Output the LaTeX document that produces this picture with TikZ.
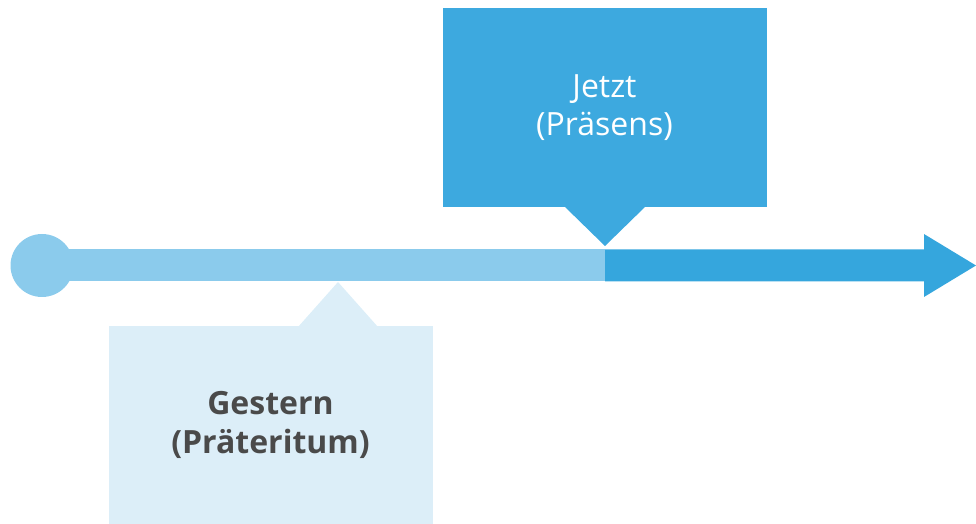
\documentclass[tikz,border=0pt]{standalone}
\usepackage{fontspec}
\setmainfont{Open Sans}
\definecolor{barlight}{HTML}{8BCBEC}
\definecolor{bardark}{HTML}{35A6DD}
\definecolor{boxdark}{HTML}{3DA9DF}
\definecolor{boxlight}{HTML}{DCEEF8}
\definecolor{txtgrey}{HTML}{4A4A4A}
\begin{document}
\begin{tikzpicture}[x=0.75pt,y=-0.75pt,
  box/.style={rectangle,inner sep=0pt,align=center,font=\fontsize{24}{29}\selectfont},
]
\useasboundingbox (0,0) rectangle (976,524);
% boxes
\node[box,fill=boxdark,text=white,minimum width=324*0.75pt,minimum height=199*0.75pt] (now) at (604.5,107.5) {Jetzt\\(Präsens)};
\node[box,fill=boxlight,text=txtgrey,font=\fontsize{24}{29}\selectfont\bfseries,minimum width=324*0.75pt,minimum height=198*0.75pt] (past) at (270.5,425) {Gestern\\(Präteritum)};
% pointers
\coordinate (nowtip) at (605,246);
\coordinate (pasttip) at (338,282);
\fill[boxdark] (564,206) -- (nowtip) -- (646,206) -- cycle;
\fill[boxlight] (298,327) -- (pasttip) -- (378,327) -- cycle;
% timeline
\coordinate (start) at (42,249.5);
\coordinate (split) at (605,281.5);
\fill[barlight] (start) rectangle (split);
\node[circle,fill=barlight,minimum size=63*0.75pt,inner sep=0pt] (origin) at (42,265.5) {};
\coordinate (tip) at (976,265.5);
\fill[bardark] (605,249.5) -- (924,249.5) -- (924,234) -- (tip) -- (924,297) -- (924,281.5) -- (605,281.5) -- cycle;
\end{tikzpicture}
\end{document}
